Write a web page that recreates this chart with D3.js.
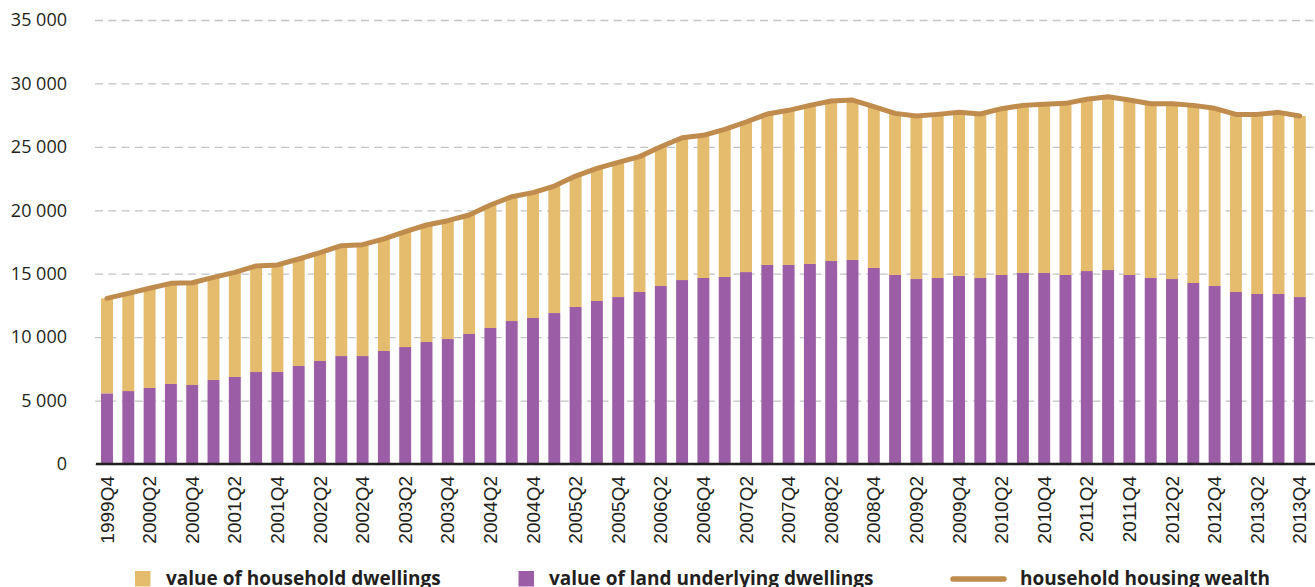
<!DOCTYPE html>
<html>
<head>
<meta charset="utf-8">
<script src="https://cdn.jsdelivr.net/npm/d3@7"></script>
<style>
  html, body { margin: 0; padding: 0; background: #ffffff; }
  svg { display: block; }
</style>
</head>
<body>
<svg id="chart" width="1315" height="587"></svg>
<script>
// Quarterly household housing wealth, split into dwellings and the land beneath them
const quarters = [
  "1999Q4",
  "2000Q1","2000Q2","2000Q3","2000Q4",
  "2001Q1","2001Q2","2001Q3","2001Q4",
  "2002Q1","2002Q2","2002Q3","2002Q4",
  "2003Q1","2003Q2","2003Q3","2003Q4",
  "2004Q1","2004Q2","2004Q3","2004Q4",
  "2005Q1","2005Q2","2005Q3","2005Q4",
  "2006Q1","2006Q2","2006Q3","2006Q4",
  "2007Q1","2007Q2","2007Q3","2007Q4",
  "2008Q1","2008Q2","2008Q3","2008Q4",
  "2009Q1","2009Q2","2009Q3","2009Q4",
  "2010Q1","2010Q2","2010Q3","2010Q4",
  "2011Q1","2011Q2","2011Q3","2011Q4",
  "2012Q1","2012Q2","2012Q3","2012Q4",
  "2013Q1","2013Q2","2013Q3","2013Q4"
];

// value of land underlying dwellings
const landValues = [
  5570,
  5750, 5990, 6310, 6230,
  6620, 6860, 7250, 7250,
  7730, 8120, 8510, 8510,
  8910, 9220, 9620, 9850,
  10250, 10720, 11270, 11510,
  11900, 12380, 12850, 13160,
  13560, 14030, 14500, 14660,
  14740, 15130, 15690, 15690,
  15770, 16000, 16080, 15450,
  14900, 14580, 14660, 14820,
  14660, 14900, 15060, 15060,
  14900, 15210, 15290, 14900,
  14660, 14580, 14270, 14030,
  13560, 13400, 13400, 13160
];

// value of household dwellings (structures)
const dwellingValues = [
  7490,
  7700, 7860, 7930, 8060,
  8090, 8250, 8360, 8440,
  8430, 8540, 8700, 8780,
  8830, 9090, 9220, 9330,
  9380, 9700, 9800, 9880,
  10010, 10320, 10460, 10620,
  10670, 10980, 11220, 11250,
  11640, 11830, 11900, 12190,
  12500, 12610, 12610, 12720,
  12740, 12850, 12900, 12900,
  12930, 13110, 13210, 13290,
  13530, 13540, 13660, 13790,
  13740, 13820, 14000, 14010,
  14000, 14160, 14320, 14270
];

const yTicks = [0, 5000, 10000, 15000, 20000, 25000, 30000, 35000];
const xTickLabels = quarters.filter(q => q.endsWith("Q2") || q.endsWith("Q4"));

const seriesNames = [
  "value of household dwellings",
  "value of land underlying dwellings",
  "household housing wealth"
];

const COLORS = {
  dwellings: "#e5bb6e",
  land: "#9b5da5",
  wealth: "#c08c4e",
  text: "#231f20",
  grid: "#c4c4c8"
};

const rows = quarters.map((q, i) => ({
  q,
  land: landValues[i],
  dwellings: dwellingValues[i],
  total: landValues[i] + dwellingValues[i]
}));

const svg = d3.select("#chart");

const x = d3.scaleBand()
  .domain(quarters)
  .range([96.35, 1310.45])
  .paddingInner(0.44)
  .paddingOuter(0.22);

const y = d3.scaleLinear()
  .domain([0, 35000])
  .range([464, 20]);

const fmt = d3.formatLocale({ decimal: ",", thousands: " ", grouping: [3], currency: ["", ""] }).format(",d");

// Y axis: labels plus dashed gridlines spanning the plot
const yAxis = svg.append("g")
  .attr("transform", "translate(95,0)")
  .call(d3.axisLeft(y).tickValues(yTicks).tickFormat(fmt).tickSize(-1220).tickPadding(28));
yAxis.select(".domain").remove();
yAxis.selectAll(".tick line")
  .attr("stroke", COLORS.grid)
  .attr("stroke-width", 1.3)
  .attr("stroke-dasharray", "8,5.3");
yAxis.selectAll(".tick text")
  .attr("fill", COLORS.text)
  .style("font-family", "'Open Sans', sans-serif")
  .style("font-size", "18px");

// Stacked bars: land at the bottom, dwellings on top
const stack = d3.stack().keys(["land", "dwellings"]);
const layers = stack(rows);
const layerColor = { land: COLORS.land, dwellings: COLORS.dwellings };

svg.append("g").selectAll("g")
  .data(layers)
  .join("g")
  .attr("fill", d => layerColor[d.key])
  .selectAll("rect")
  .data(d => d)
  .join("rect")
  .attr("x", d => x(d.data.q))
  .attr("width", x.bandwidth())
  .attr("y", d => y(d[1]))
  .attr("height", d => y(d[0]) - y(d[1]));

// X axis: rotated quarter labels
const xAxis = svg.append("g")
  .attr("transform", "translate(0,464)")
  .call(d3.axisBottom(x).tickValues(xTickLabels).tickSize(0));
xAxis.select(".domain").remove();
xAxis.selectAll(".tick text")
  .attr("transform", "rotate(-90)")
  .attr("x", -12)
  .attr("y", 0)
  .attr("dy", "0.35em")
  .style("text-anchor", "end")
  .attr("fill", COLORS.text)
  .style("font-family", "'Liberation Sans', Arial, sans-serif")
  .style("font-size", "19px");

// Baseline
svg.append("line")
  .attr("x1", 96).attr("x2", 1315)
  .attr("y1", y(0)).attr("y2", y(0))
  .attr("stroke", COLORS.text)
  .attr("stroke-width", 2.5);

// Total housing wealth line
const line = d3.line()
  .x(d => x(d.q) + x.bandwidth() / 2)
  .y(d => y(d.total));

svg.append("path")
  .datum(rows)
  .attr("d", line)
  .attr("fill", "none")
  .attr("stroke", COLORS.wealth)
  .attr("stroke-width", 5)
  .attr("stroke-linejoin", "round")
  .attr("stroke-linecap", "round");

// Legend
const legend = svg.append("g")
  .style("font-family", "'Open Sans', sans-serif")
  .style("font-size", "19px")
  .style("font-weight", "bold")
  .attr("fill", COLORS.text);

legend.append("rect")
  .attr("x", 135).attr("y", 571).attr("width", 15.5).attr("height", 15.5)
  .attr("fill", COLORS.dwellings);
legend.append("text").attr("x", 166).attr("y", 585).text(seriesNames[0]);

legend.append("rect")
  .attr("x", 518.5).attr("y", 571).attr("width", 15.5).attr("height", 15.5)
  .attr("fill", COLORS.land);
legend.append("text").attr("x", 549).attr("y", 585).text(seriesNames[1]);

legend.append("line")
  .attr("x1", 953).attr("x2", 1004)
  .attr("y1", 579).attr("y2", 579)
  .attr("stroke", COLORS.wealth)
  .attr("stroke-width", 5.5)
  .attr("stroke-linecap", "round");
legend.append("text").attr("x", 1020).attr("y", 585).text(seriesNames[2]);
</script>
</body>
</html>
